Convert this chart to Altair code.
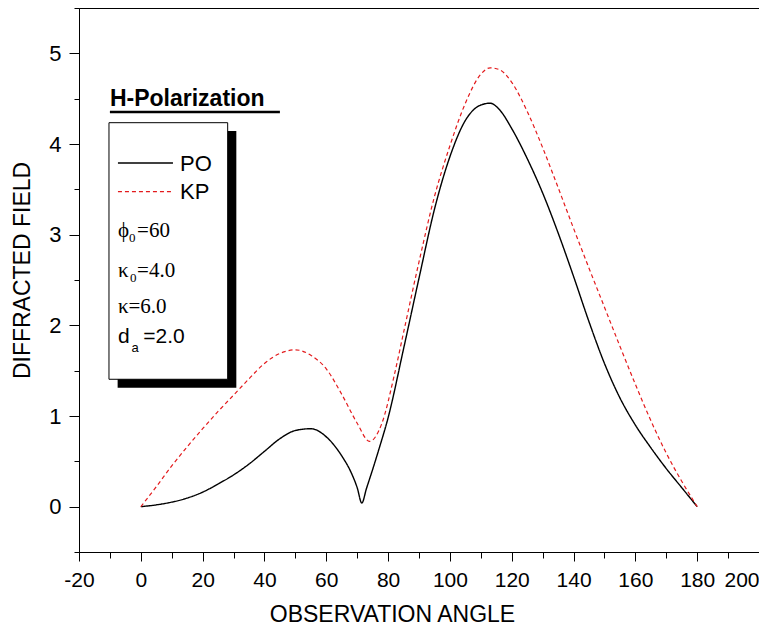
import altair as alt
import pandas as pd

# ---- data ----
po_angle = [0, 5, 10, 15, 20, 25, 30, 35, 40, 45, 50, 55, 60, 65, 68, 70, 71.5, 73, 75, 77,
            80, 85, 90, 95, 100, 105, 110, 113, 116, 120, 125, 130, 135, 140, 145, 150, 155,
            160, 165, 170, 175, 180]
po_field = [0, 0.02, 0.05, 0.095, 0.16, 0.25, 0.35, 0.47, 0.61, 0.75, 0.84, 0.86, 0.77, 0.56,
            0.38, 0.21, 0.04, 0.20, 0.41, 0.63, 0.98, 1.74, 2.52, 3.28, 3.86, 4.26, 4.43, 4.45,
            4.38, 4.17, 3.84, 3.46, 3.02, 2.54, 2.04, 1.58, 1.20, 0.90, 0.65, 0.42, 0.21, 0]

kp_angle = [0, 5, 10, 15, 20, 25, 30, 35, 40, 45, 50, 55, 60, 65, 70, 74, 78, 82, 85, 90,
            95, 100, 105, 110, 113, 116, 120, 125, 130, 135, 140, 145, 150, 155, 160, 165,
            170, 175, 180]
kp_field = [0, 0.22, 0.45, 0.66, 0.86, 1.05, 1.23, 1.41, 1.58, 1.69, 1.73, 1.67, 1.52, 1.24,
            0.92, 0.72, 0.92, 1.45, 1.92, 2.70, 3.42, 3.98, 4.45, 4.77, 4.84, 4.82, 4.68, 4.36,
            3.96, 3.52, 3.07, 2.63, 2.20, 1.77, 1.35, 0.95, 0.59, 0.28, 0]

series_names = ["PO", "KP"]
series_colors = ["#000000", "#e31a1c"]

x_ticks = list(range(-20, 201, 10))
y_ticks = [v / 2 for v in range(-1, 12)]

curves = pd.concat([
    pd.DataFrame({"angle": po_angle, "field": po_field, "series": "PO"}),
    pd.DataFrame({"angle": kp_angle, "field": kp_field, "series": "KP"}),
], ignore_index=True)

FONT = "Liberation Sans, Arial, sans-serif"
SERIF = "Liberation Serif, Times New Roman, DejaVu Serif, serif"

x_scale = alt.Scale(domain=[-20, 200], nice=False, zero=False)
y_scale = alt.Scale(domain=[-0.5, 5.5], nice=False, zero=False)

x_axis = alt.Axis(
    values=x_ticks,
    labelExpr="datum.value % 20 === 0 ? '' + datum.value : ''",
    labelAlign={"condition": {"test": "datum.value >= 200", "value": "right"}, "value": "center"},
    tickSize={"condition": {"test": "datum.value % 20 === 0", "value": 9}, "value": 6},
    labelFontSize=21, labelPadding=8, labelFlush=False,
    titleFontSize=23, titleFontWeight="normal",
    titleX=313, titleY=69, titleAnchor="start", titleAlign="center",
    titleBaseline="alphabetic",
)
y_axis = alt.Axis(
    values=y_ticks,
    labelExpr="datum.value % 1 === 0 ? '' + datum.value : ''",
    tickSize={"condition": {"test": "datum.value % 1 === 0", "value": 10}, "value": 5},
    labelFontSize=22, labelPadding=8, labelFlush=False,
    titleFontSize=23, titleFontWeight="normal",
    titleAngle=270, titleX=-57, titleY=262, titleAlign="center",
    titleBaseline="middle", titleAnchor="start",
)

X = alt.X("angle:Q", scale=x_scale, axis=x_axis, title="OBSERVATION ANGLE")
Y = alt.Y("field:Q", scale=y_scale, axis=y_axis, title="DIFFRACTED FIELD")

lines = alt.Chart(curves).mark_line(interpolate="monotone").encode(
    x=X, y=Y,
    color=alt.Color("series:N", scale=alt.Scale(domain=series_names, range=series_colors), legend=None),
    strokeDash=alt.StrokeDash("series:N", scale=alt.Scale(domain=series_names, range=[[1, 0], [4, 3]]), legend=None),
    strokeWidth=alt.StrokeWidth("series:N", scale=alt.Scale(domain=series_names, range=[1.4, 1.2]), legend=None),
)

# ---- legend box (annotation, placed in data units) ----
shadow = alt.Chart(pd.DataFrame({"angle": [-7.5], "angle2": [30.9], "field": [4.143], "field2": [1.312]})).mark_rect(
    color="black").encode(x=X, x2="angle2", y=Y, y2="field2")
box = alt.Chart(pd.DataFrame({"angle": [-10.3], "angle2": [28.1], "field": [4.235], "field2": [1.405]})).mark_rect(
    fill="white", stroke="black", strokeWidth=1).encode(x=X, x2="angle2", y=Y, y2="field2")

underline = alt.Chart(pd.DataFrame({"angle": [-10.0], "angle2": [45.0], "field": [4.353]})).mark_rule(
    color="black", strokeWidth=2.5).encode(x=X, x2="angle2", y=Y)

title_txt = alt.Chart(pd.DataFrame({"angle": [-10.0], "field": [4.419], "t": ["H-Polarization"]})).mark_text(
    align="left", baseline="alphabetic", font=FONT, fontSize=23, fontWeight="bold", color="black"
).encode(x=X, y=Y, text="t:N")

po_sample = alt.Chart(pd.DataFrame({"angle": [-7.4], "angle2": [10.4], "field": [3.79]})).mark_rule(
    color="black", strokeWidth=1.4).encode(x=X, x2="angle2", y=Y)
kp_sample = alt.Chart(pd.DataFrame({"angle": [-7.4], "angle2": [10.4], "field": [3.474]})).mark_rule(
    color="#e31a1c", strokeWidth=1.2, strokeDash=[4, 3]).encode(x=X, x2="angle2", y=Y)

leg_txt = alt.Chart(pd.DataFrame({"angle": [12.7, 12.7], "field": [3.705, 3.388], "t": series_names})).mark_text(
    align="left", baseline="alphabetic", font=FONT, fontSize=22, color="black"
).encode(x=X, y=Y, text="t:N")

serif_txt = alt.Chart(pd.DataFrame({
    "angle": [-7.4, -1.2, -7.4, -1.2, -7.4],
    "field": [2.978, 2.978, 2.537, 2.537, 2.136],
    "t": ["ϕ", "=60", "κ", "=4.0", "κ=6.0"],
})).mark_text(align="left", baseline="alphabetic", font=SERIF, fontSize=21, color="black").encode(
    x=X, y=Y, text="t:N")

serif_sub = alt.Chart(pd.DataFrame({
    "angle": [-3.8, -3.5], "field": [2.923, 2.482], "t": ["0", "0"],
})).mark_text(align="left", baseline="alphabetic", font=SERIF, fontSize=13, color="black").encode(
    x=X, y=Y, text="t:N")

sans_txt = alt.Chart(pd.DataFrame({
    "angle": [-7.4, 0.8], "field": [1.805, 1.805], "t": ["d", "=2.0"],
})).mark_text(align="left", baseline="alphabetic", font=FONT, fontSize=21, color="black").encode(
    x=X, y=Y, text="t:N")

sans_sub = alt.Chart(pd.DataFrame({
    "angle": [-3.0], "field": [1.709], "t": ["a"],
})).mark_text(align="left", baseline="alphabetic", font=FONT, fontSize=13, color="black").encode(
    x=X, y=Y, text="t:N")

chart = alt.layer(
    lines, shadow, box, underline, title_txt, po_sample, kp_sample,
    leg_txt, serif_txt, serif_sub, sans_txt, sans_sub,
).properties(
    width=680, height=544,
    autosize=alt.AutoSizeParams(type="none"),
    padding={"left": 71, "top": 0, "right": 0, "bottom": 77},
    background="white",
).configure_view(
    stroke="black", strokeWidth=1,
).configure_axis(
    grid=False, domainColor="black", domainWidth=1, tickColor="black", tickWidth=1,
    labelColor="black", titleColor="black", labelFont=FONT, titleFont=FONT,
)

chart.save("out.html", embed_options={"renderer": "svg", "actions": False})
